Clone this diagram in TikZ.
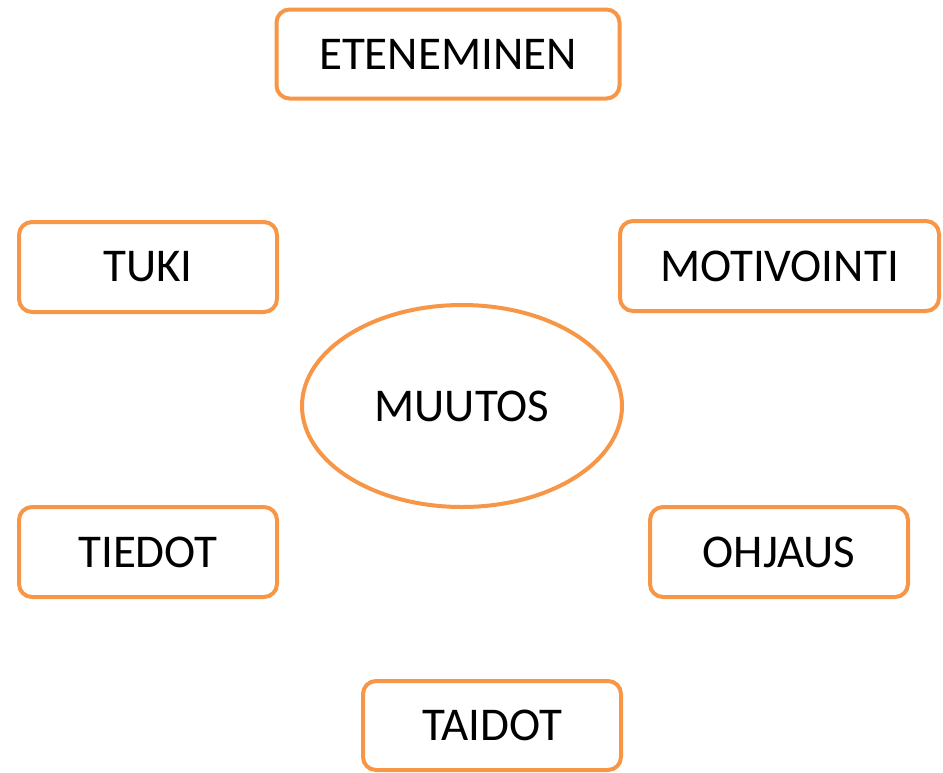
\documentclass[tikz,border=0pt]{standalone}
\usepackage{fontspec}
\setmainfont{Carlito}
\usetikzlibrary{shapes.geometric}
\definecolor{orng}{HTML}{F79646}
\begin{document}
\begin{tikzpicture}[x=1pt,y=-1pt,
  box/.style={draw=orng,line width=4pt,rounded corners=13pt,fill=white,inner sep=0pt,
    font=\fontsize{47}{56}\selectfont,text=black},
  oval/.style={draw=orng,line width=4pt,ellipse,fill=white,inner sep=0pt,
    font=\fontsize{47}{56}\selectfont,text=black}]
\useasboundingbox (0,0) rectangle (943,772);
\node[box,minimum width=343pt,minimum height=89pt] (ete) at (448,54) {ETENEMINEN};
\node[box,minimum width=258pt,minimum height=90pt] (tuki) at (148,267) {TUKI};
\node[box,minimum width=319pt,minimum height=90pt] (moti) at (779.5,266) {MOTIVOINTI};
\node[oval,minimum width=320pt,minimum height=202pt] (muutos) at (462,406) {MUUTOS};
\node[box,minimum width=258pt,minimum height=90pt] (tiedot) at (148,552) {TIEDOT};
\node[box,minimum width=258pt,minimum height=90pt] (ohjaus) at (779,552) {OHJAUS};
\node[box,minimum width=258pt,minimum height=89pt] (taidot) at (492,725.5) {TAIDOT};
\end{tikzpicture}
\end{document}
